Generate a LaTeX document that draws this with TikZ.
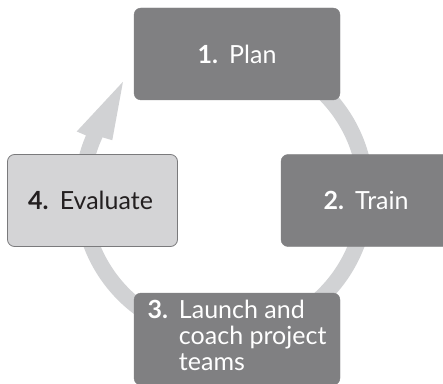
\documentclass[tikz,border=0pt]{standalone}
\usepackage{fontspec}
\setmainfont{Lato}
\definecolor{stepdark}{RGB}{128,128,130}
\definecolor{steplight}{RGB}{212,212,214}
\definecolor{stepedge}{RGB}{122,122,124}
\definecolor{ringgray}{RGB}{209,210,212}
\definecolor{inkdark}{RGB}{35,31,32}
\newcommand{\numgap}{\hspace{0.45em}}
\tikzset{
  stepbox/.style={rounded corners=7pt, inner sep=0pt, align=center,
    font=\fontsize{25}{26}\selectfont},
  darkstep/.style={stepbox, fill=stepdark, draw=stepdark, text=white},
  lightstep/.style={stepbox, fill=steplight, draw=stepedge, line width=0.8pt, text=inkdark},
}
\begin{document}
\begin{tikzpicture}[x=1pt, y=1pt]
  \useasboundingbox (0,0) rectangle (443,383);
  \clip (0,0) rectangle (443,383);

  % cycle ring with its arrow head, behind the step boxes
  \coordinate (c) at (224,189);
  \begin{scope}[shift={(c)}]
    \fill[ringgray] (60:150) arc[start angle=60, end angle=-203, radius=150pt]
      -- (-203:160) -- (-228:151) -- (-205.7:124) -- (-205:134)
      arc[start angle=-205, end angle=60, radius=134pt] -- cycle;
  \end{scope}

  % the four steps
  \node[darkstep, minimum width=206pt, minimum height=92pt] (plan) at (237,329)
    {\textbf{1.}\numgap Plan};
  \node[darkstep, minimum width=170pt, minimum height=92pt] (train) at (366,182.5)
    {\textbf{2.}\numgap Train};
  \node[darkstep, minimum width=206pt, minimum height=92pt] (launch) at (237,44)
    {\begin{tabular}{@{}l@{\hspace{11pt}}l@{}}
       \textbf{3.} & Launch and\\
                   & coach project\\
                   & teams
     \end{tabular}};
  \node[lightstep, minimum width=170pt, minimum height=92pt] (evaluate) at (92.5,182.5)
    {\textbf{4.}\numgap Evaluate\hspace{4pt}};
\end{tikzpicture}
\end{document}
